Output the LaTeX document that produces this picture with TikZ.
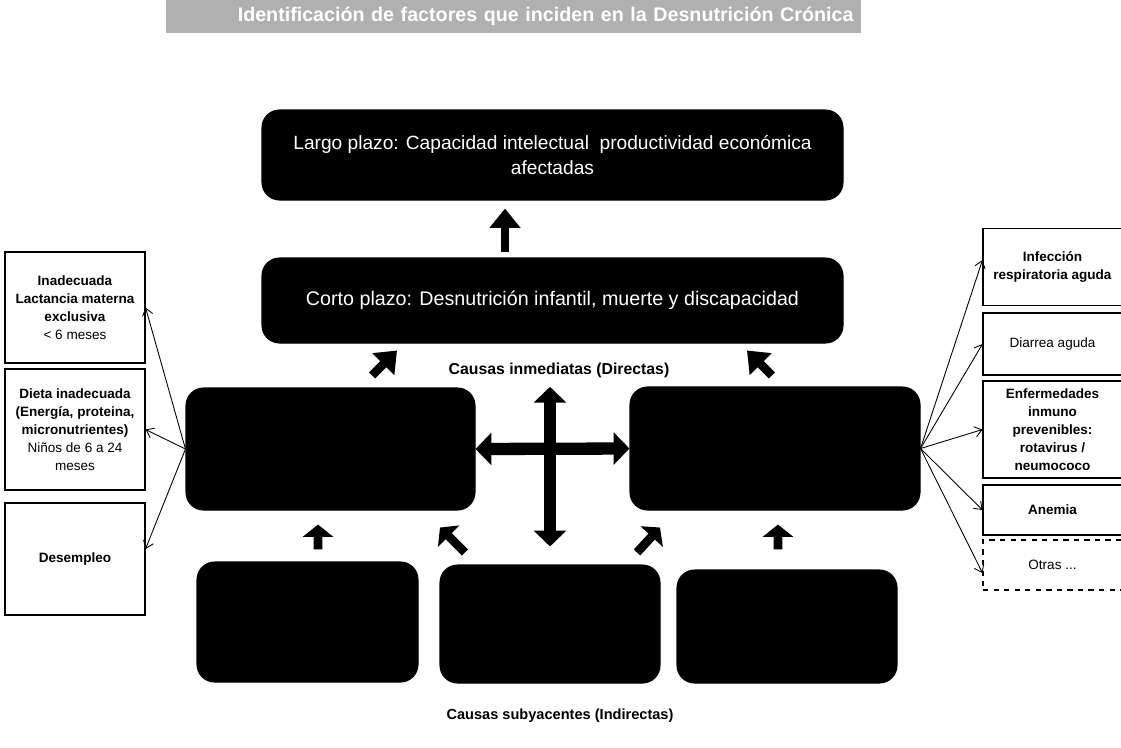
\documentclass[tikz,border=0pt]{standalone}
\usepackage{fontspec}
\setmainfont{Liberation Sans}
\usetikzlibrary{arrows.meta,calc}

\begin{document}
\begin{tikzpicture}[line width=0.6pt,
  title node/.style={rectangle,fill=gray!62,text=white,minimum width=13.9cm,minimum height=0.66cm,
    text width=13.6cm,align=right,font=\bfseries\fontsize{11.2}{12}\selectfont},
  dark node/.style={rectangle,rounded corners=10pt,fill=black,draw=black,text=white,align=center,
    font=\fontsize{10.9}{14}\selectfont},
  side node/.style={rectangle,draw=black,fill=white,align=center,inner sep=2pt,
    font=\fontsize{7.7}{10.2}\selectfont},
  label node/.style={font=\bfseries\fontsize{9}{10}\selectfont},
  thin arrow/.style={-{Straight Barb[length=4pt,width=6pt]},line width=0.5pt},
  block arrow/.style={line width=5pt,-{Triangle[length=11pt,width=17pt]}},
  small arrow/.style={line width=5pt,-{Triangle[length=7pt,width=17pt]}},
  cross arrow/.style={line width=7pt,{Triangle[length=9pt,width=18pt]}-{Triangle[length=9pt,width=18pt]}}]
  \useasboundingbox (0,0) rectangle (22.42,-14.94);

  \node[title node] (title) at (10.27,-0.32) {Identificación de factores que inciden en la Desnutrición Crónica};

  % efectos
  \node[dark node,minimum width=11.62cm,minimum height=1.8cm] (largo) at (11.05,-3.1)
    {Largo plazo: Capacidad intelectual\ \ productividad económica\\ afectadas};
  \node[dark node,minimum width=11.62cm,minimum height=1.7cm,font=\fontsize{11.2}{14}\selectfont] (corto) at (11.05,-6.01)
    {Corto plazo: Desnutrición infantil, muerte y discapacidad};
  \node[label node] (inmed) at (11.18,-7.4) {Causas inmediatas (Directas)};

  % causas directas e indirectas
  \node[dark node,minimum width=5.78cm,minimum height=2.44cm] (lmid) at (6.61,-8.98) {};
  \node[dark node,minimum width=5.8cm,minimum height=2.46cm] (rmid) at (15.5,-8.97) {};
  \node[dark node,minimum width=4.42cm,minimum height=2.4cm] (blft) at (6.15,-12.44) {};
  \node[dark node,minimum width=4.4cm,minimum height=2.36cm] (bmid) at (11.0,-12.48) {};
  \node[dark node,minimum width=4.4cm,minimum height=2.26cm] (brgt) at (15.74,-12.53) {};
  \node[label node,font=\bfseries\fontsize{8.3}{10}\selectfont] (subyac) at (11.2,-14.32) {Causas subyacentes (Indirectas)};

  % cajas laterales
  \node[side node,minimum width=2.8cm,minimum height=2.22cm] (L1) at (1.5,-6.15)
    {\textbf{Inadecuada}\\ \textbf{Lactancia materna}\\ \textbf{exclusiva}\\ < 6 meses};
  \node[side node,minimum width=2.8cm,minimum height=2.42cm] (L2) at (1.5,-8.59)
    {\textbf{Dieta inadecuada}\\ \textbf{(Energía, proteina,}\\ \textbf{micronutrientes)}\\ Niños de 6 a 24\\ meses};
  \node[side node,minimum width=2.8cm,minimum height=2.24cm] (L3) at (1.5,-11.18) {\textbf{Desempleo}};

  \node[side node,minimum width=2.78cm,minimum height=1.54cm] (R1) at (21.05,-5.34)
    {\textbf{Infección}\\ \textbf{respiratoria aguda}};
  \node[side node,minimum width=2.78cm,minimum height=1.24cm] (R2) at (21.05,-6.88) {Diarrea aguda};
  \node[side node,minimum width=2.78cm,minimum height=1.94cm] (R3) at (21.05,-8.59)
    {\textbf{Enfermedades}\\ \textbf{inmuno}\\ \textbf{prevenibles:}\\ \textbf{rotavirus /}\\ \textbf{neumococo}};
  \node[side node,minimum width=2.78cm,minimum height=1.0cm] (R4) at (21.05,-10.2) {\textbf{Anemia}};
  \node[side node,dashed,minimum width=2.78cm,minimum height=1.0cm] (R5) at (21.05,-11.3) {Otras ...};

  \path[thin arrow]
    (lmid.west) edge (L1.east)
    (lmid.west) edge (L2.east)
    (lmid.west) edge ([yshift=0.2cm]L3.east)
    (rmid.east) edge ([yshift=0.14cm]R1.west)
    (rmid.east) edge (R2.west)
    (rmid.east) edge (R3.west)
    (rmid.east) edge (R4.west)
    (rmid.east) edge ([yshift=-0.16cm]R5.west);

  \draw[block arrow,shorten <=0.1cm,shorten >=0.16cm] ([xshift=-0.95cm]corto.north) -- ([xshift=-0.95cm]largo.south);
  \draw[block arrow] ([shift={(0.83,0.24)}]lmid.north) -- ([shift={(-3.11,-0.14)}]corto.south);
  \draw[block arrow] ([shift={(-0.06,0.22)}]rmid.north) -- ([shift={(3.89,-0.14)}]corto.south);

  \draw[cross arrow] (lmid.east) -- (rmid.west);
  \draw[cross arrow,shorten <=0.06cm,shorten >=0.36cm] (inmed.south -| bmid.north) -- (bmid.north);

  \draw[small arrow] ([shift={(0.21,0.24)}]blft.north) -- ([shift={(-0.25,-0.28)}]lmid.south);
  \draw[small arrow] ([shift={(-0.18,0.4)}]brgt.north) -- ([shift={(0.06,-0.28)}]rmid.south);
  \draw[small arrow] ([shift={(-1.7,0.24)}]bmid.north) -- ([shift={(2.19,-0.34)}]lmid.south);
  \draw[small arrow] ([shift={(1.74,0.24)}]bmid.north) -- ([shift={(-2.3,-0.34)}]rmid.south);
\end{tikzpicture}
\end{document}
